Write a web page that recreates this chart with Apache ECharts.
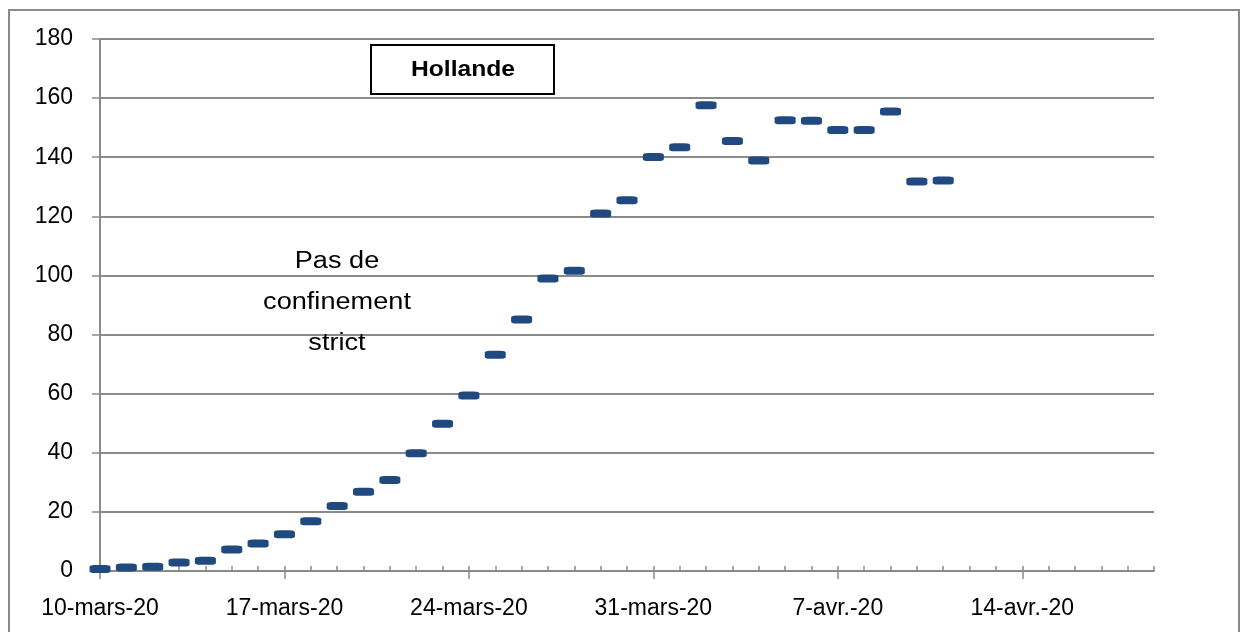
<!DOCTYPE html>
<html>
<head>
<meta charset="utf-8">
<script src="https://cdn.jsdelivr.net/npm/echarts@6/dist/echarts.min.js"></script>
<style>
  html, body { margin: 0; padding: 0; background: #fff; }
  #chart { width: 1242px; height: 632px; }
</style>
</head>
<body>
<div id="chart"></div>
<script>
  "use strict";
  // one category per day, 10 mars -> 19 avril
  var days = [
    '10-mars-20', '11-mars-20', '12-mars-20', '13-mars-20', '14-mars-20', '15-mars-20', '16-mars-20',
    '17-mars-20', '18-mars-20', '19-mars-20', '20-mars-20', '21-mars-20', '22-mars-20', '23-mars-20',
    '24-mars-20', '25-mars-20', '26-mars-20', '27-mars-20', '28-mars-20', '29-mars-20', '30-mars-20',
    '31-mars-20', '1-avr.-20', '2-avr.-20', '3-avr.-20', '4-avr.-20', '5-avr.-20', '6-avr.-20',
    '7-avr.-20', '8-avr.-20', '9-avr.-20', '10-avr.-20', '11-avr.-20', '12-avr.-20', '13-avr.-20',
    '14-avr.-20', '15-avr.-20', '16-avr.-20', '17-avr.-20', '18-avr.-20', '19-avr.-20'
  ];
  var deaths = [
    0.7, 1.2, 1.4, 2.9, 3.5, 7.3, 9.3, 12.4, 16.8, 22, 26.8, 30.8, 39.8, 49.8,
    59.4, 73.2, 85.1, 99, 101.6, 121, 125.4, 140.1, 143.4, 157.6, 145.5, 138.9,
    152.5, 152.3, 149.2, 149.2, 155.5, 131.8, 132.1
  ];
  var yTicks = [0, 180, 20];
  var title = 'Hollande';
  var note = 'Pas de\nconfinement\nstrict';

  var font = 'Liberation Sans, Arial, sans-serif';
  var gray = '#8a8a8a';

  var option = {
    backgroundColor: '#fff',
    animation: false,
    grid: {left: 100, right: 88, top: 39, bottom: 61},
    xAxis: [{
      type: 'category',
      data: days,
      boundaryGap: false,
      axisLine: {lineStyle: {color: gray, width: 2}},
      axisTick: {show: true, interval: 0, inside: true, length: 5, lineStyle: {color: gray, width: 1.5}},
      axisLabel: {show: false},
      splitLine: {show: false}
    }, {
      type: 'category',
      data: days,
      position: 'bottom',
      boundaryGap: false,
      axisLine: {show: false},
      axisTick: {show: true, interval: 6, length: 8, lineStyle: {color: gray, width: 1.5}},
      axisLabel: {interval: 6, color: '#000', fontSize: 23, fontFamily: font, margin: 26},
      splitLine: {show: false}
    }],
    yAxis: {
      type: 'value',
      min: yTicks[0],
      max: yTicks[1],
      interval: yTicks[2],
      axisLine: {show: true, lineStyle: {color: gray, width: 2}},
      axisTick: {show: true, length: 8, lineStyle: {color: gray, width: 1.5}},
      axisLabel: {color: '#000', fontSize: 23, fontFamily: font, margin: 27},
      splitLine: {lineStyle: {color: gray, width: 2}}
    },
    series: [{
      type: 'scatter',
      xAxisIndex: 0,
      symbol: 'roundRect',
      symbolSize: [21, 8],
      itemStyle: {color: '#1F497F', opacity: 1},
      data: deaths
    }],
    graphic: [{
      type: 'rect',
      shape: {x: 9, y: 10, width: 1230, height: 640},
      style: {fill: 'none', stroke: gray, lineWidth: 2},
      silent: true
    }, {
      type: 'rect',
      shape: {x: 371, y: 45, width: 183, height: 49},
      style: {fill: '#fff', stroke: '#000', lineWidth: 2},
      z: 10
    }, {
      type: 'text',
      x: 463, y: 70,
      scaleX: 1.12,
      style: {text: title, font: 'bold 22px ' + font, fill: '#000', align: 'center', verticalAlign: 'middle'},
      z: 11
    }, {
      type: 'text',
      x: 337, y: 303,
      scaleX: 1.18,
      style: {text: note, font: '23px ' + font, lineHeight: 41, fill: '#000', align: 'center', verticalAlign: 'middle'},
      z: 11
    }]
  };

  var chart = echarts.init(document.getElementById('chart'));
  chart.setOption(option);
</script>
</body>
</html>
